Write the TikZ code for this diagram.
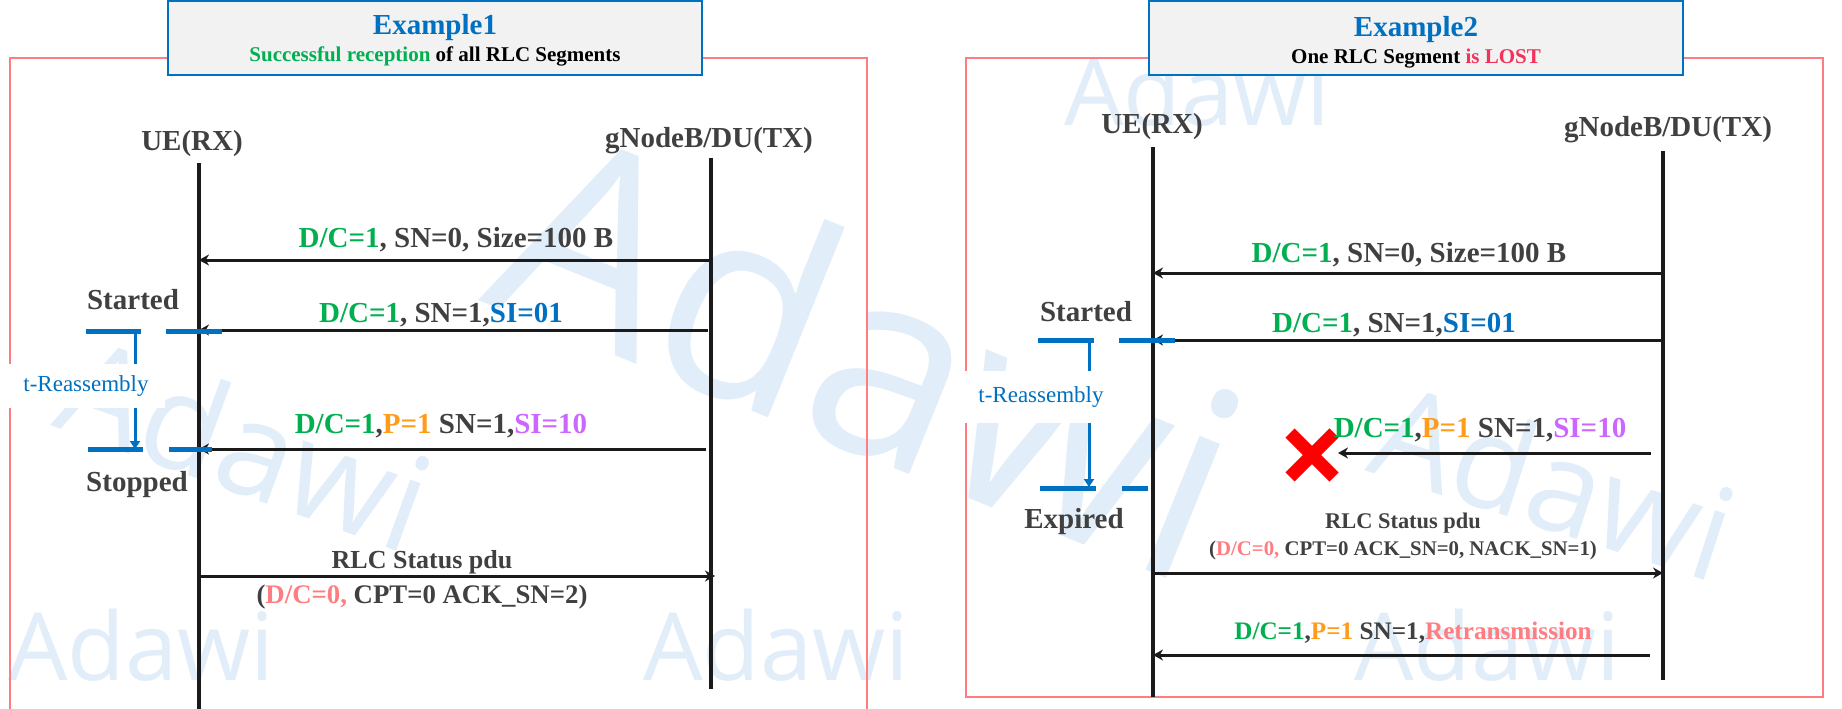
\documentclass[tikz,border=0pt]{standalone}
\usepackage{fontspec}
\setmainfont{Liberation Serif}
\newfontfamily\wmfont{Open Sans}
\usepackage{xcolor}
\usetikzlibrary{arrows.meta,shapes.misc}
\definecolor{adGreen}{RGB}{0,176,80}
\definecolor{adGray}{RGB}{64,64,64}
\definecolor{adBlue}{RGB}{0,112,192}
\definecolor{adOrange}{RGB}{255,156,26}
\definecolor{adViolet}{RGB}{204,102,255}
\definecolor{adSalmon}{RGB}{255,124,128}
\definecolor{adLost}{RGB}{245,48,90}
\definecolor{adRed}{RGB}{255,0,0}
\definecolor{adFill}{RGB}{242,242,242}
\definecolor{adWater}{RGB}{225,237,248}
\definecolor{adLine}{RGB}{26,26,26}
\tikzset{
    lifeline/.style={adLine, line width=2pt},
    msg/.style={adLine, line width=1.5pt, -{Stealth[length=5pt,width=5.5pt]}},
    lbl/.style={anchor=base, inner sep=0pt, text=adGray, font=\fontsize{14.5}{17}\selectfont\bfseries},
    ttl/.style={anchor=base, inner sep=0pt, text=adBlue, font=\fontsize{14.5}{17}\selectfont\bfseries},
    subttl/.style={anchor=base, inner sep=0pt, text=black, font=\fontsize{10.5}{12}\selectfont\bfseries},
    titlebox/.style={draw=adBlue, fill=adFill, line width=1.2pt, minimum width=267pt, minimum height=37pt, inner sep=0pt},
    panelframe/.style={adSalmon, line width=1pt},
    tdash/.style={adBlue, line width=2.5pt},
    timer/.style={adBlue, line width=1.5pt, -{Triangle[length=4pt,width=5pt]}},
    tlbl/.style={fill=white, text=adBlue, font=\fontsize{11.5}{13}\selectfont, inner xsep=8pt},
    wmark/.style={anchor=base west, inner sep=0pt, text=adWater},
}
\begin{document}
\begin{tikzpicture}[x=0.5pt,y=-0.5pt]
    \useasboundingbox (0,0) rectangle (1842,708);
    \fill[white] (0,0) rectangle (1842,708);
    % watermarks
    \node[wmark, rotate=-22, font=\wmfont\fontsize{135}{135}\selectfont] (wmBig) at (478,300) {Adawi};
    \node[wmark, rotate=-20, font=\wmfont\fontsize{67}{67}\selectfont] (wmLeft) at (50,425) {Adawi};
    \node[wmark, rotate=-18, font=\wmfont\fontsize{65}{65}\selectfont] (wmRight) at (1364,470) {Adawi};
    \node[wmark, font=\wmfont\fontsize{47}{47}\selectfont] (wmBL) at (8,680) {Adawi};
    \node[wmark, font=\wmfont\fontsize{47}{47}\selectfont] (wmBM) at (643,680) {Adawi};
    \node[wmark, font=\wmfont\fontsize{47}{47}\selectfont] (wmRT) at (1064,125) {Adawi};
    \node[wmark, font=\wmfont\fontsize{47}{47}\selectfont] (wmRB) at (1354,680) {Adawi};

    \begin{scope}
        \draw[panelframe] (10,712) -- (10,58) -- (867,58) -- (867,712);
        \node[titlebox] (box1) at (435,38) {};
        \node[ttl] (head1) at (435,34) {Example1};
        \node[subttl] (sub1) at (435,61) {\textcolor{adGreen}{Successful reception} of all RLC Segments};
        \node[lbl] (ue1) at (192,150) {UE(RX)};
        \node[lbl] (gnb1) at (709,147) {gNodeB/DU(TX)};
        \coordinate (ue1top) at (199,163);
        \coordinate (ue1bot) at (199,712);
        \coordinate (gnb1top) at (711,158);
        \coordinate (gnb1bot) at (711,689);
        \draw[lifeline] (ue1top) -- (ue1bot);
        \draw[lifeline] (gnb1top) -- (gnb1bot);
        \draw[msg] (gnb1top |- 0,260) -- (ue1top |- 0,260);
        \node[lbl] (m11) at (456,247) {\textcolor{adGreen}{D/C=1}, SN=0, Size=100 B};
        \draw[msg] (708,330) -- (ue1top |- 0,330);
        \node[lbl] (m12) at (441,322) {\textcolor{adGreen}{D/C=1}, SN=1,\textcolor{adBlue}{SI=01}};
        \draw[msg] (706,449) -- (ue1top |- 0,449);
        \node[lbl] (m13) at (441,433) {\textcolor{adGreen}{D/C=1},\textcolor{adOrange}{P=1} SN=1,\textcolor{adViolet}{SI=10}};
        \draw[msg] (ue1top |- 0,576) -- (715,576);
        \node[lbl, font=\fontsize{13}{15}\selectfont\bfseries] (st1) at (422,568) {RLC Status pdu};
        \node[lbl, font=\fontsize{13.4}{16}\selectfont\bfseries] (sd1) at (422,603) {(\textcolor{adSalmon}{D/C=0,} CPT=0 ACK\_SN=2)};
        \coordinate (t1start) at (135,331);
        \coordinate (t1stop) at (135,449);
        \draw[tdash] (86,331) -- (141,331);
        \draw[tdash] (166,331) -- (222,331);
        \draw[tdash] (88,449) -- (143,449);
        \draw[tdash] (169,449) -- (212,449);
        \draw[timer] (t1start) -- (t1stop);
        \node[tlbl, inner ysep=6pt] (tr1) at (86,386) {t-Reassembly};
        \node[lbl] (on1) at (133,309) {Started};
        \node[lbl] (off1) at (137,491) {Stopped};
    \end{scope}

    \begin{scope}
        \draw[panelframe] (966,58) rectangle (1823,697);
        \node[titlebox] (box2) at (1416,38) {};
        \node[ttl] (head2) at (1416,36) {Example2};
        \node[subttl] (sub2) at (1416,63) {One RLC Segment \textcolor{adLost}{is LOST}};
        \node[lbl] (ue2) at (1152,133) {UE(RX)};
        \node[lbl] (gnb2) at (1668,136) {gNodeB/DU(TX)};
        \coordinate (ue2top) at (1153,147);
        \coordinate (ue2bot) at (1153,697);
        \coordinate (gnb2top) at (1663,151);
        \coordinate (gnb2bot) at (1663,680);
        \draw[lifeline] (ue2top) -- (ue2bot);
        \draw[lifeline] (gnb2top) -- (gnb2bot);
        \draw[msg] (gnb2top |- 0,273) -- (ue2top |- 0,273);
        \node[lbl] (m21) at (1409,262) {\textcolor{adGreen}{D/C=1}, SN=0, Size=100 B};
        \draw[msg] (gnb2top |- 0,340) -- (ue2top |- 0,340);
        \node[lbl] (m22) at (1394,332) {\textcolor{adGreen}{D/C=1}, SN=1,\textcolor{adBlue}{SI=01}};
        \node[cross out, draw=adRed, line width=6.5pt, minimum size=15.5pt, inner sep=0pt] (lost) at (1312,455) {};
        \coordinate (lostTip) at (1338,453);
        \draw[msg] (1651,453) -- (lostTip);
        \node[lbl] (m23) at (1480,437) {\textcolor{adGreen}{D/C=1},\textcolor{adOrange}{P=1} SN=1,\textcolor{adViolet}{SI=10}};
        \draw[msg] (ue2top |- 0,573) -- (gnb2top |- 0,573);
        \node[lbl, font=\fontsize{11.2}{13}\selectfont\bfseries] (st2) at (1403,528) {RLC Status pdu};
        \node[lbl, font=\fontsize{10.4}{12}\selectfont\bfseries] (sd2) at (1403,555) {(\textcolor{adSalmon}{D/C=0,} CPT=0 ACK\_SN=0, NACK\_SN=1)};
        \draw[msg] (1650,655) -- (ue2top |- 0,655);
        \node[lbl, font=\fontsize{12.6}{15}\selectfont\bfseries] (m25) at (1413,639) {\textcolor{adGreen}{D/C=1},\textcolor{adOrange}{P=1} SN=1,\textcolor{adSalmon}{Retransmission}};
        \coordinate (t2start) at (1089,340);
        \coordinate (t2stop) at (1089,487);
        \draw[tdash] (1038,340) -- (1094,340);
        \draw[tdash] (1119,340) -- (1175,340);
        \draw[tdash] (1040,488) -- (1096,488);
        \draw[tdash] (1122,488) -- (1148,488);
        \draw[timer] (t2start) -- (t2stop);
        \node[tlbl, inner ysep=8pt] (tr2) at (1041,397) {t-Reassembly};
        \node[lbl] (on2) at (1086,321) {Started};
        \node[lbl] (off2) at (1074,528) {Expired};
    \end{scope}
\end{tikzpicture}
\end{document}
